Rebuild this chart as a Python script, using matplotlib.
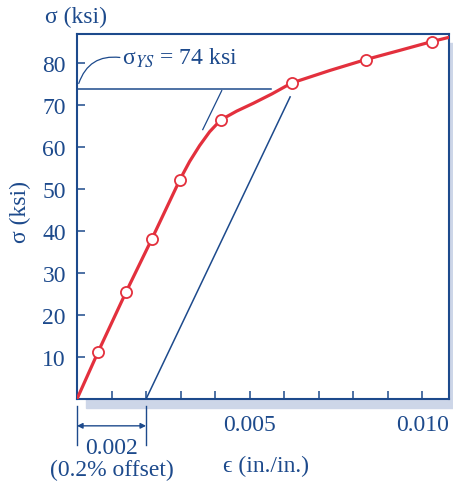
import matplotlib.pyplot as plt
from matplotlib.patches import Rectangle

# stress-strain data
test_strain = [0.00061, 0.00142, 0.00217, 0.00298, 0.00416, 0.00621, 0.00836, 0.01028]
test_stress = [11.2, 25.5, 38.2, 52.3, 66.5, 75.3, 80.9, 85.2]

curve_strain = [0.0, 0.00061, 0.00142, 0.00217, 0.00298, 0.00326, 0.00355, 0.00384,
                0.00416, 0.00462, 0.00511, 0.00564, 0.00621, 0.00732, 0.00836,
                0.00935, 0.01028, 0.01077]
curve_stress = [0.0, 11.2, 25.5, 38.2, 52.3, 56.6, 60.4, 63.7,
                66.5, 68.6, 70.5, 72.7, 75.3, 78.3, 80.9,
                83.1, 85.2, 86.2]

offset_strain = [0.002, 0.00617]
offset_stress = [0.0, 72.0]
guide_strain = [0.00364, 0.00419]
guide_stress = [64.2, 73.5]
yield_stress = 74
yield_end = 0.00561

y_ticks = [10, 20, 30, 40, 50, 60, 70, 80]
x_ticks = [0.005, 0.010]
x_minor = [0.001 * i for i in range(1, 11)]

BLUE = "#1d4a8c"
RED = "#e3303d"
SHADOW = "#cdd6e8"
FS = 17

plt.rcParams["font.family"] = ["Liberation Serif", "DejaVu Serif"]
plt.rcParams["mathtext.fontset"] = "stix"

fig = plt.figure(figsize=(4.53, 4.85), dpi=100)
ax = fig.add_axes([0.170, 0.1753, 0.8212, 0.7526])

# drop shadow behind the frame
fig.patches.append(Rectangle((0.170 + 9 / 453, 0.1753 - 9 / 485), 0.8212, 0.7526,
                             transform=fig.transFigure, color=SHADOW, zorder=-5))
ax.set_facecolor("white")

ax.plot(curve_strain, curve_stress, color=RED, lw=2.3, zorder=3)
ax.plot(test_strain, test_stress, "o", ms=8, mfc="white", mec=RED, mew=1.3, zorder=4)
ax.plot(offset_strain, offset_stress, color=BLUE, lw=1.1)
ax.plot(guide_strain, guide_stress, color=BLUE, lw=0.9)
ax.plot([0, yield_end], [yield_stress, yield_stress], color=BLUE, lw=1.1)

ax.set_xlim(0, 0.01077)
ax.set_ylim(0, 87)

for s in ax.spines.values():
    s.set_color(BLUE)
    s.set_linewidth(1.5)

ax.set_yticks(y_ticks)
ax.set_xticks(x_ticks)
ax.set_xticklabels(["0.005", "0.010"])
ax.set_xticks(x_minor, minor=True)
ax.tick_params(axis="both", which="both", direction="in", length=6, width=1.1,
               color=BLUE, labelcolor=BLUE, labelsize=FS)
ax.tick_params(axis="y", pad=8)
ax.tick_params(axis="x", which="major", pad=11)

# yield strength label with curved leader
ax.annotate("", xy=(0.00005, 75.2), xytext=(0.00124, 81.4),
            arrowprops=dict(arrowstyle="-", color=BLUE, lw=0.9,
                            connectionstyle="arc3,rad=0.4", shrinkA=0, shrinkB=0))
ax.text(0.00130, 81.4, r"σ$_{YS}$ = 74 ksi", color=BLUE, fontsize=FS,
        ha="left", va="center")

# 0.2% offset dimension below the axis
for xv in [0.0, 0.002]:
    ax.plot([xv, xv], [-1.7, -11.0], color=BLUE, lw=1.0, clip_on=False)
ax.annotate("", xy=(0.0, -6.4), xytext=(0.002, -6.4),
            arrowprops=dict(arrowstyle="<|-|>", color=BLUE, lw=1.0,
                            mutation_scale=8, shrinkA=0, shrinkB=0),
            annotation_clip=False)
ax.text(0.001, -11.5, "0.002", color=BLUE, fontsize=FS, ha="center", va="center")
ax.text(0.001, -16.7, "(0.2% offset)", color=BLUE, fontsize=FS, ha="center", va="center")

fig.text(223 / 453, 1 - 466 / 485, "ϵ (in./in.)", color=BLUE, fontsize=FS,
         ha="left", va="center")
fig.text(20 / 453, 1 - 212 / 485, "σ (ksi)", color=BLUE, fontsize=FS,
         ha="center", va="center", rotation=90)
fig.text(45 / 453, 1 - 17 / 485, "σ (ksi)", color=BLUE, fontsize=FS,
         ha="left", va="center")

fig.savefig("out.png", dpi=100)
